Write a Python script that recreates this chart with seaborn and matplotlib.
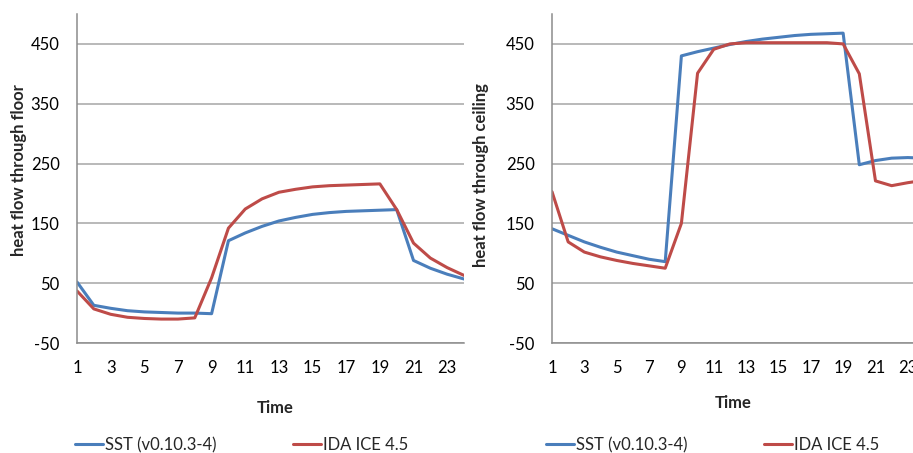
import pandas as pd
import matplotlib
matplotlib.use('Agg')
import matplotlib.pyplot as plt
import seaborn as sns

# hours
time = list(range(1, 25))

# heat flow through floor
floor_sst = [52, 13, 8, 4, 2, 1, 0, 0, -1, 121, 134, 145, 154, 160, 165, 168,
             170, 171, 172, 173, 88, 75, 65, 57]
floor_ida = [37, 7, -2, -7, -9, -10, -10, -8, 59, 142, 174, 191, 202, 207, 211,
             213, 214, 215, 216, 173, 117, 92, 76, 63]

# heat flow through ceiling
ceil_sst = [141, 130, 119, 110, 102, 96, 90, 86, 430, 437, 443, 449, 454, 458,
            461, 464, 466, 467, 468, 248, 255, 259, 260, 259]
ceil_ida = [203, 119, 102, 94, 88, 83, 79, 75, 150, 401, 441, 450, 452, 452,
            452, 452, 452, 452, 450, 400, 221, 213, 218, 222]

series_names = ['SST (v0.10.3-4)', 'IDA ICE 4.5']
colors = {'SST (v0.10.3-4)': '#4A7EBB', 'IDA ICE 4.5': '#BE4B48'}
yticks = [-50, 50, 150, 250, 350, 450]
xticklabels = [str(t) if t % 2 == 1 else '' for t in time]


def long_frame(sst, ida):
    return pd.DataFrame({
        'Time': time * 2,
        'value': sst + ida,
        'model': [series_names[0]] * len(time) + [series_names[1]] * len(time),
    })


sns.set_style('white')
plt.rcParams['font.family'] = ['Lato', 'DejaVu Sans']
plt.rcParams['axes.unicode_minus'] = False
grey = '#8C8C8C'

fig = plt.figure(figsize=(9.13, 4.53), dpi=100)
ax1 = fig.add_axes([77 / 913, 110 / 453, 387 / 913, 329 / 453])
ax2 = fig.add_axes([552 / 913, 110 / 453, 372 / 913, 329 / 453])

panels = [
    (ax1, long_frame(floor_sst, floor_ida), 'heat flow through floor', (-0.129, 0.525), (0.512, -0.173), 75),
    (ax2, long_frame(ceil_sst, ceil_ida), 'heat flow through ceiling', (-0.169, 0.51), (0.487, -0.158), 546),
]

for ax, df, ylabel, ylab_pos, xlab_pos, leg_x in panels:
    sns.lineplot(data=df, x='Time', y='value', hue='model', palette=colors,
                 linewidth=2.2, ax=ax, legend=True)
    ax.set_xlim(1, 24)
    ax.set_ylim(-50, 500)
    ax.set_yticks(yticks)
    ax.set_xticks(time)
    ax.set_xticklabels(xticklabels)
    ax.grid(axis='y', color='#A6A6A6', linewidth=1.1)
    ax.set_axisbelow(True)
    for s in ['top', 'right']:
        ax.spines[s].set_visible(False)
    for s in ['left', 'bottom']:
        ax.spines[s].set_color(grey)
        ax.spines[s].set_linewidth(1.1)
    ax.tick_params(axis='both', which='major', direction='out', length=4.5,
                   width=1, color=grey, labelsize=12, labelcolor='black')
    ax.tick_params(axis='x', pad=8)
    ax.tick_params(axis='y', pad=8)
    ax.set_ylabel(ylabel, fontsize=12, fontweight='bold')
    ax.yaxis.set_label_coords(*ylab_pos)
    ax.set_xlabel('Time', fontsize=12, fontweight='bold')
    ax.xaxis.set_label_coords(*xlab_pos)

    handles, labels = ax.get_legend_handles_labels()
    ax.get_legend().remove()
    fig.legend(handles, labels, loc='center left',
               bbox_to_anchor=(leg_x / 913, 8 / 453),
               bbox_transform=fig.transFigure, ncol=2, frameon=False,
               fontsize=12, handlelength=1.65, handletextpad=0.15,
               columnspacing=4.6, borderpad=0, borderaxespad=0)

fig.savefig('out.png', dpi=100)
